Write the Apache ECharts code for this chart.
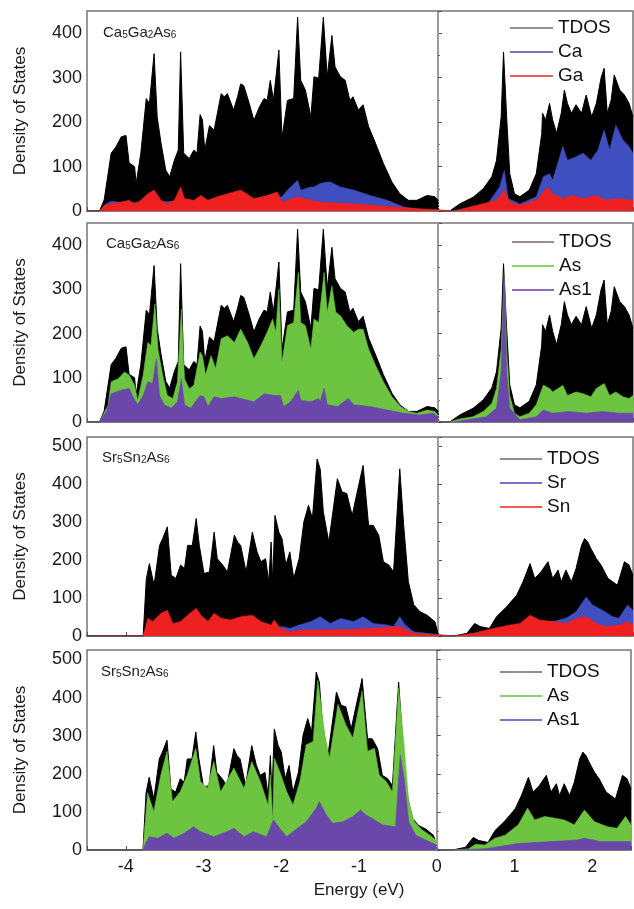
<!DOCTYPE html>
<html>
<head>
<meta charset="utf-8">
<script src="https://cdn.jsdelivr.net/npm/echarts@6/dist/echarts.min.js"></script>
<style>
html,body{margin:0;padding:0;background:#fff;}
#c{width:634px;height:909px;}
</style>
</head>
<body>
<div id="c"></div>
<script>
// ---------------- DATA (energies in eV, DOS in states) ----------------
// Ca5Ga2As6 total DOS
const caTotE = [-4.5,-4.34,-4.28,-4.19,-4.13,-4.06,-4.0,-3.96,-3.89,-3.87,-3.81,-3.74,-3.70,-3.64,-3.60,-3.55,-3.49,-3.44,-3.38,-3.33,-3.30,-3.26,-3.19,-3.13,-3.09,-3.05,-3.02,-2.99,-2.93,-2.87,-2.78,-2.74,-2.70,-2.62,-2.57,-2.53,-2.49,-2.42,-2.36,-2.29,-2.23,-2.19,-2.15,-2.11,-2.04,-2.0,-1.93,-1.85,-1.80,-1.76,-1.70,-1.63,-1.59,-1.53,-1.47,-1.42,-1.36,-1.32,-1.25,-1.19,-1.13,-1.09,-1.02,-0.96,-0.89,-0.80,-0.70,-0.59,-0.49,-0.38,-0.27,-0.14,-0.04,0,0.01,0.15,0.28,0.45,0.58,0.69,0.75,0.81,0.84,0.88,0.92,0.98,1.05,1.17,1.26,1.33,1.34,1.38,1.43,1.47,1.52,1.58,1.62,1.66,1.71,1.77,1.84,1.90,1.97,2.03,2.09,2.13,2.17,2.22,2.26,2.33,2.39,2.45,2.5];
const caTotV = [0,0,25,130,144,167,170,108,100,62,130,253,242,354,211,152,92,77,114,137,358,130,118,137,130,217,205,137,192,182,264,257,264,227,257,286,282,242,204,234,253,249,294,249,362,164,249,253,436,294,272,212,302,299,436,302,395,324,302,294,249,257,227,239,190,152,107,65,39,24,24,35,32,25,0,0,16,31,50,77,114,212,358,212,84,39,32,47,84,174,220,205,242,205,175,220,272,242,220,239,220,261,212,242,299,321,220,250,306,272,261,242,212];
// Ca5Ga2As6 partial: Ca
const caCaE = [-4.5,-4.34,-4.27,-4.19,-4.0,-3.7,-3.3,-3.0,-2.5,-2.2,-2.06,-2.0,-1.93,-1.80,-1.76,-1.63,-1.59,-1.51,-1.42,-1.38,-1.25,-1.08,-0.87,-0.65,-0.44,-0.23,0,0.01,0.2,0.45,0.62,0.79,0.85,0.90,1.05,1.26,1.35,1.43,1.47,1.60,1.66,1.77,1.86,1.96,2.05,2.13,2.20,2.28,2.37,2.45,2.5];
const caCaV = [0,0,14,22,18,20,22,22,25,28,30,32,47,69,47,54,54,62,65,65,54,47,35,24,9,3,1,0,0,5,12,54,91,28,16,32,77,84,69,145,114,122,130,114,137,182,137,193,160,145,130];
// Ca5Ga2As6 partial: Ga
const caGaE = [-4.5,-4.34,-4.27,-4.19,-4.06,-3.96,-3.89,-3.81,-3.72,-3.64,-3.55,-3.47,-3.38,-3.30,-3.25,-3.13,-3.04,-2.95,-2.83,-2.70,-2.53,-2.36,-2.19,-2.06,-2.0,-1.80,-1.63,-1.51,-1.08,-0.65,-0.23,0,0.01,0.2,0.41,0.75,0.85,0.92,1.05,1.26,1.35,1.41,1.47,1.60,1.73,1.86,2.03,2.15,2.32,2.5];
const caGaV = [0,0,13,16,20,24,16,24,39,47,24,16,24,54,28,24,35,24,32,39,47,28,35,43,20,32,24,20,16,10,5,3,0,0,9,24,47,20,13,24,43,54,39,28,35,28,35,24,28,24];
// Ca5Ga2As6 partial: As
const caAsE = [-4.5,-4.34,-4.32,-4.23,-4.19,-4.1,-4.02,-3.96,-3.89,-3.85,-3.78,-3.72,-3.68,-3.63,-3.59,-3.53,-3.47,-3.40,-3.34,-3.29,-3.25,-3.19,-3.13,-3.05,-3.02,-2.98,-2.91,-2.85,-2.78,-2.70,-2.61,-2.53,-2.44,-2.36,-2.27,-2.19,-2.12,-2.08,-2.04,-2.0,-1.93,-1.85,-1.79,-1.76,-1.70,-1.63,-1.59,-1.53,-1.46,-1.42,-1.36,-1.31,-1.25,-1.17,-1.08,-1.02,-0.96,-0.89,-0.80,-0.70,-0.59,-0.48,-0.38,-0.27,-0.14,-0.04,0,0.01,0.15,0.28,0.45,0.58,0.69,0.75,0.81,0.85,0.88,0.92,0.98,1.05,1.17,1.26,1.35,1.43,1.47,1.60,1.66,1.77,1.86,1.96,2.03,2.13,2.20,2.28,2.37,2.45,2.5];
const caAsV = [0,0,2,38,91,98,113,106,83,49,106,180,173,267,165,106,60,53,91,255,98,75,83,158,150,106,150,121,188,195,180,210,180,143,173,203,233,203,300,135,218,225,338,225,218,165,233,225,338,248,308,248,240,218,203,210,210,165,128,91,57,35,24,20,27,24,16,0,0,7,12,24,42,76,165,338,165,60,20,12,20,39,83,76,68,83,60,68,64,57,76,87,60,68,57,53,60];
// Ca5Ga2As6 partial: As1
const caAs1E = [-4.5,-4.34,-4.32,-4.25,-4.19,-4.06,-3.96,-3.91,-3.85,-3.78,-3.72,-3.66,-3.61,-3.57,-3.51,-3.42,-3.34,-3.29,-3.25,-3.17,-3.05,-3.0,-2.95,-2.87,-2.78,-2.61,-2.44,-2.36,-2.23,-2.10,-2.02,-1.98,-1.89,-1.79,-1.76,-1.63,-1.53,-1.51,-1.46,-1.42,-1.29,-1.15,-1.08,-0.87,-0.65,-0.44,-0.23,-0.06,0,0.01,0.2,0.37,0.62,0.75,0.81,0.85,0.88,0.92,1.05,1.26,1.35,1.47,1.68,1.90,2.11,2.32,2.5];
const caAs1V = [0,0,2,24,64,72,76,57,39,60,91,87,143,60,39,31,46,98,39,31,60,57,35,57,53,57,49,46,64,60,60,35,46,72,49,46,53,46,76,39,35,53,39,35,27,20,16,20,12,0,0,5,12,31,113,334,113,31,5,12,27,20,24,20,24,20,20];

// Sr5Sn2As6 total DOS
const srTotE = [-4.5,-3.78,-3.74,-3.70,-3.64,-3.57,-3.53,-3.47,-3.42,-3.36,-3.30,-3.25,-3.21,-3.15,-3.10,-3.06,-3.0,-2.93,-2.87,-2.83,-2.76,-2.70,-2.61,-2.57,-2.53,-2.46,-2.38,-2.32,-2.27,-2.21,-2.17,-2.14,-2.12,-2.09,-2.04,-2.0,-1.95,-1.90,-1.85,-1.78,-1.72,-1.66,-1.61,-1.55,-1.51,-1.47,-1.40,-1.29,-1.23,-1.17,-1.10,-1.04,-0.96,-0.89,-0.83,-0.76,-0.70,-0.63,-0.57,-0.49,-0.44,-0.38,-0.31,-0.23,-0.14,-0.04,0,0.01,0.2,0.37,0.47,0.54,0.66,0.75,0.88,1.01,1.09,1.18,1.24,1.32,1.41,1.47,1.54,1.58,1.64,1.71,1.77,1.84,1.88,1.92,1.96,2.03,2.09,2.18,2.24,2.30,2.39,2.45,2.5];
const srTotV = [0,0,150,191,134,239,257,288,160,152,187,178,239,239,310,239,165,169,274,204,187,169,266,248,239,169,274,222,196,204,143,248,143,318,274,257,187,222,152,204,301,345,310,467,440,327,248,415,380,376,318,376,450,292,292,266,196,187,169,441,292,143,82,64,55,38,7,0,0,7,33,25,20,51,77,108,143,191,152,169,196,152,174,143,174,143,178,239,257,248,231,204,187,152,143,134,196,187,160];
// Sr5Sn2As6 partial: Sr
const srSrE = [-4.5,-3.78,-3.72,-3.5,-3.0,-2.5,-2.1,-2.0,-1.90,-1.78,-1.63,-1.51,-1.38,-1.25,-1.08,-0.96,-0.83,-0.65,-0.57,-0.49,-0.42,-0.31,0,0.01,0.2,0.62,1.05,1.22,1.47,1.64,1.77,1.90,1.98,2.11,2.24,2.32,2.43,2.5];
const srSrV = [0,0,20,25,25,25,20,25,20,29,38,51,33,46,38,51,33,29,25,51,29,11,4,0,0,7,20,38,38,47,64,103,82,68,51,47,82,68];
// Sr5Sn2As6 partial: Sn
const srSnE = [-4.5,-3.78,-3.72,-3.66,-3.55,-3.47,-3.40,-3.30,-3.21,-3.10,-3.04,-2.95,-2.87,-2.78,-2.66,-2.53,-2.38,-2.27,-2.14,-2.10,-2.02,-1.89,-1.76,-1.51,-1.08,-0.49,-0.31,0,0.01,0.2,0.45,0.71,0.92,1.05,1.18,1.30,1.47,1.64,1.77,1.90,2.03,2.15,2.32,2.43,2.5];
const srSnV = [0,0,47,38,60,68,33,38,55,73,55,38,60,47,42,51,55,38,29,42,20,11,16,16,18,25,7,3,0,0,7,20,29,33,55,42,38,33,46,51,33,25,29,38,29];
// Sr5Sn2As6 partial: As
const srAsE = [-4.5,-3.78,-3.72,-3.64,-3.55,-3.47,-3.40,-3.30,-3.21,-3.10,-3.04,-2.95,-2.87,-2.78,-2.61,-2.48,-2.38,-2.27,-2.17,-2.14,-2.11,-2.09,-2.02,-1.93,-1.85,-1.76,-1.68,-1.59,-1.53,-1.44,-1.38,-1.27,-1.17,-1.08,-0.96,-0.89,-0.80,-0.74,-0.65,-0.57,-0.49,-0.42,-0.36,-0.29,-0.19,-0.06,0,0.01,0.2,0.41,0.50,0.62,0.75,0.88,1.05,1.17,1.26,1.39,1.54,1.64,1.77,1.90,2.03,2.20,2.32,2.43,2.5];
const srAsV = [0,0,150,101,197,259,127,153,197,267,180,162,232,153,215,162,232,180,118,197,75,241,206,153,118,180,276,285,445,303,241,382,329,294,417,259,267,197,180,153,425,276,127,75,53,35,22,0,0,3,15,13,31,39,66,110,79,88,83,79,66,105,74,61,57,88,66];
// Sr5Sn2As6 partial: As1
const srAs1E = [-4.5,-3.78,-3.74,-3.70,-3.59,-3.47,-3.38,-3.25,-3.13,-3.04,-2.87,-2.70,-2.61,-2.48,-2.36,-2.19,-2.10,-2.02,-1.93,-1.85,-1.68,-1.55,-1.51,-1.42,-1.34,-1.21,-1.08,-0.98,-0.91,-0.83,-0.70,-0.53,-0.47,-0.42,-0.36,-0.27,-0.14,0,0.01,0.2,0.62,1.05,1.47,1.81,1.90,2.11,2.5];
const srAs1V = [0,0,20,35,31,44,31,44,61,48,35,48,57,35,48,35,79,57,35,48,74,110,127,92,70,74,88,105,92,83,66,61,250,189,74,39,26,13,0,0,3,17,22,26,31,22,22];

// axis / tick labels
const xTicks = [-4,-3,-2,-1,0,1,2];
const yTicksCa = [0,100,200,300,400];
const yTicksSr = [0,100,200,300,400,500];
const xName = 'Energy (eV)';
const yName = 'Density of States';
// ----------------------------------------------------------------------

function pairs(E, V) {
  if (E.length !== V.length) console.warn('length mismatch', E.length, V.length);
  const n = Math.min(E.length, V.length);
  const out = [];
  for (let i = 0; i < n; i++) out.push([E[i], V[i]]);
  return out;
}

const FONT = 'Liberation Sans, Arial, sans-serif';
const C = {
  tdos: '#000000', ca: '#3f4fbf', ga: '#ee2020',
  as: '#6cc440', as1: '#6a48aa', sr: '#3f4fbf', sn: '#ee2020'
};
const LC = {
  tdos: '#9a8c8c', ca: '#7a72c8', ga: '#f05a5a',
  as: '#8ed070', as1: '#8e6cc0', sr: '#7a72c8', sn: '#f05a5a'
};

const panels = [
  { top: 11, h: 200, ymax: 450, yt: yTicksCa, label: ['Ca','5','Ga','2','As','6'], lab: [98, 20],
    leg: [505, 13, 43],
    series: [['TDOS', caTotE, caTotV, 'tdos'], ['Ca', caCaE, caCaV, 'ca'], ['Ga', caGaE, caGaV, 'ga']] },
  { top: 223, h: 199, ymax: 450, yt: yTicksCa, label: ['Ca','5','Ga','2','As','6'], lab: [101, 231],
    leg: [507, 227, 42],
    series: [['TDOS', caTotE, caTotV, 'tdos'], ['As', caAsE, caAsV, 'as'], ['As1', caAs1E, caAs1V, 'as1']] },
  { top: 437, h: 199, ymax: 525, yt: yTicksSr, label: ['Sr','5','Sn','2','As','6'], lab: [97, 445],
    leg: [495, 444, 42],
    series: [['TDOS', srTotE, srTotV, 'tdos'], ['Sr', srSrE, srSrV, 'sr'], ['Sn', srSnE, srSnV, 'sn']] },
  { top: 650, h: 200, ymax: 525, yt: yTicksSr, label: ['Sr','5','Sn','2','As','6'], lab: [96, 659],
    leg: [495, 657, 42],
    series: [['TDOS', srTotE, srTotV, 'tdos'], ['As', srAsE, srAsV, 'as'], ['As1', srAs1E, srAs1V, 'as1']] }
];

const option = {
  animation: false,
  backgroundColor: '#fff',
  grid: [], xAxis: [], yAxis: [], series: [], legend: [], title: []
};

panels.forEach((p, i) => {
  const last = i === panels.length - 1;
  option.grid.push({
    left: 87, right: 1, top: p.top, height: p.h,
    show: true, borderColor: '#767676', borderWidth: 1.5, backgroundColor: '#fff'
  });
  option.xAxis.push({
    type: 'value', gridIndex: i, min: -4.5, max: 2.5, interval: 0.5,
    axisLine: { show: true, lineStyle: { color: '#767676', width: 1.5 } },
    axisTick: { show: true, inside: true, length: 4, lineStyle: { color: '#555', width: 1 } },
    splitLine: { show: false },
    axisLabel: {
      show: last, margin: 8, color: '#1a1a1a', fontSize: 18, fontFamily: FONT,
      formatter: v => (xTicks.indexOf(v) >= 0 ? String(v) : '')
    },
    name: last ? xName : '', nameLocation: 'middle', nameGap: 32,
    nameTextStyle: { fontSize: 17, fontFamily: FONT, color: '#1a1a1a' }
  });
  option.yAxis.push({
    type: 'value', gridIndex: i, min: 0, max: p.ymax, interval: 100,
    axisLine: { show: true, lineStyle: { color: '#767676', width: 1.5 } },
    axisTick: { show: true, inside: true, length: 4, lineStyle: { color: '#555', width: 1 } },
    minorTick: { show: true, splitNumber: 2, length: 2, lineStyle: { color: '#666' } },
    splitLine: { show: false },
    axisLabel: {
      margin: 5, color: '#1a1a1a', fontSize: 18, fontFamily: FONT,
      formatter: v => (p.yt.indexOf(v) >= 0 ? String(v) : '')
    },
    name: yName, nameLocation: 'middle', nameGap: 58, nameRotate: 90,
    nameTextStyle: { fontSize: 17, fontFamily: FONT, color: '#1a1a1a' }
  });
  p.series.forEach((s, k) => {
    const col = C[s[3]];
    const ser = {
      type: 'line', name: s[0], xAxisIndex: i, yAxisIndex: i,
      data: pairs(s[1], s[2]), showSymbol: false, symbol: 'none', smooth: false,
      lineStyle: { color: col, width: k === 0 ? 1 : 0.6 },
      itemStyle: { color: col },
      areaStyle: { color: col, opacity: 1 },
      z: 2 + k, silent: true
    };
    if (k === 0) {
      ser.markLine = {
        silent: true, symbol: ['none', 'none'], label: { show: false },
        lineStyle: { type: [1, 2], color: '#a0a0a0', width: 1 },
        data: [{ xAxis: 0 }], z: 10
      };
    }
    option.series.push(ser);
  });
  option.legend.push({
    orient: 'vertical', left: p.leg[0], top: p.leg[1],
    itemWidth: p.leg[2], itemHeight: 2, itemGap: 4, icon: 'rect', selectedMode: false,
    textStyle: { fontSize: 19, fontFamily: FONT, color: '#111', lineHeight: 20 },
    data: p.series.map(s => ({ name: s[0], icon: 'rect', itemStyle: { color: LC[s[3]] } }))
  });
  const L = p.label;
  option.title.push({
    left: p.lab[0], top: p.lab[1],
    text: `{a|${L[0]}}{b|${L[1]}}{a|${L[2]}}{b|${L[3]}}{a|${L[4]}}{b|${L[5]}}`,
    textStyle: {
      fontWeight: 'normal',
      rich: {
        a: { fontSize: 15, fontFamily: FONT, fontWeight: 'normal', color: '#222', lineHeight: 15, verticalAlign: 'bottom' },
        b: { fontSize: 10, fontFamily: FONT, fontWeight: 'normal', color: '#222', lineHeight: 10, verticalAlign: 'bottom' }
      }
    }
  });
});

const chart = echarts.init(document.getElementById('c'), null, { renderer: 'canvas' });
chart.setOption(option);
</script>
</body>
</html>
